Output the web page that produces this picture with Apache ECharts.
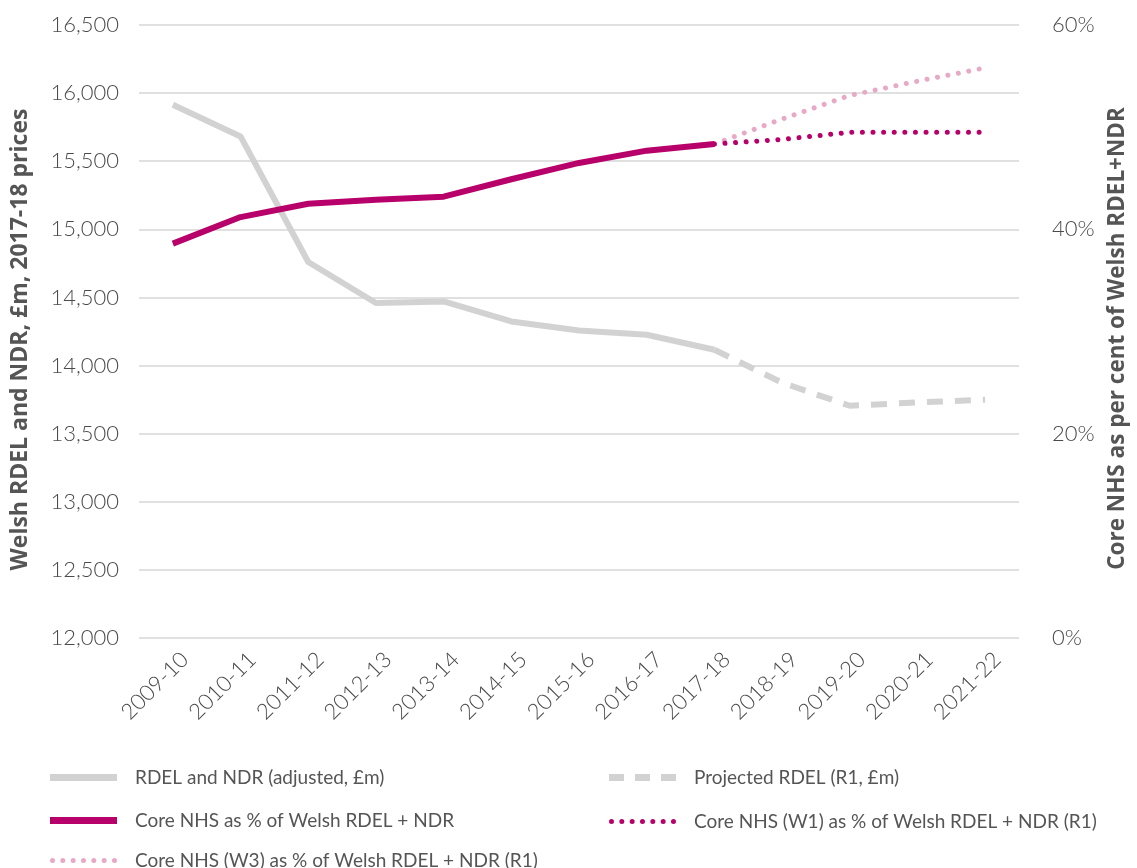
<!DOCTYPE html>
<html><head><meta charset="utf-8">
<script src="https://cdn.jsdelivr.net/npm/echarts@6/dist/echarts.min.js"></script>
<style>html,body{margin:0;padding:0;background:#fff}#c{width:1137px;height:868px}</style>
</head><body><div id="c"></div>
<script>
const categories = ['2009-10','2010-11','2011-12','2012-13','2013-14','2014-15','2015-16','2016-17','2017-18','2018-19','2019-20','2020-21','2021-22'];
const rdelNdr = [15915, 15682, 14760, 14459, 14471, 14324, 14258, 14226, 14116, null, null, null, null];
const projectedRdel = [null, null, null, null, null, null, null, null, 14116, 13874, 13705, 13729, 13749];
const coreNhsPct = [38.6, 41.2, 42.5, 42.9, 43.2, 44.9, 46.5, 47.7, 48.35, null, null, null, null];
const coreNhsW1Pct = [null, null, null, null, null, null, null, null, 48.35, 48.8, 49.5, 49.5, 49.5];
const coreNhsW3Pct = [null, null, null, null, null, null, null, null, 48.35, 50.8, 53.1, 54.5, 55.8];
const leftTicks = {min: 12000, max: 16500, interval: 500};
const rightTicks = {min: 0, max: 60, interval: 20};

const GRAY = '#d2d2d2', CRIMSON = '#b8006b', PINK = '#e7a9c6', TXT = '#555555', TICK = '#4a4a4a';
const FONT = 'Lato';
const TITLE_FONT = 'Open Sans';

// legend icon shapes (unit box, scaled to itemWidth x itemHeight)
const ICON_DASH = 'path://M0 0H15V7H0Z M26 0H41V7H26Z M52 0H67V7H52Z';
function dotsPath() {
  let p = 'path://';
  for (let i = 0; i < 7; i++) {
    const cx = 2.5 + i * 10.33, r = 2.5;
    p += `M${(cx - r).toFixed(2)} 2.5a${r} ${r} 0 1 0 ${2*r} 0a${r} ${r} 0 1 0 ${-2*r} 0Z`;
  }
  return p;
}
const ICON_DOTS = dotsPath();

const chart = echarts.init(document.getElementById('c'));
const legendBase = (name, icon, h, left, top) => ({
  data: [{name: name, icon: icon}], left: left, top: top, itemWidth: 67, itemHeight: h, padding: 0,
  itemStyle: {borderWidth: 0},
  textStyle: {fontFamily: FONT, fontSize: 19, color: TXT, padding: [0,0,0,13]}
});
chart.setOption({
  animation: false,
  textStyle: {fontFamily: FONT},
  grid: {left: 139, right: 105, top: 25, bottom: 230, containLabel: false},
  legend: [
    legendBase('RDEL and NDR (adjusted, £m)', 'rect', 7, 50, 768),
    legendBase('Projected RDEL (R1, £m)', ICON_DASH, 7, 609, 768),
    legendBase('Core NHS as % of Welsh RDEL + NDR', 'rect', 7, 50, 811),
    legendBase('Core NHS (W1) as % of Welsh RDEL + NDR (R1)', ICON_DOTS, 5, 609, 812),
    legendBase('Core NHS (W3) as % of Welsh RDEL + NDR (R1)', ICON_DOTS, 5, 50, 851)
  ],
  xAxis: {
    type: 'category', data: categories, boundaryGap: true,
    axisLine: {show: false}, axisTick: {show: false},
    axisLabel: {rotate: 45, color: TICK, fontSize: 22, fontFamily: FONT, fontWeight: 300, margin: 30,
      padding: [0, -17, 0, 0], interval: 0}
  },
  yAxis: [
    {type: 'value', min: leftTicks.min, max: leftTicks.max, interval: leftTicks.interval, position: 'left',
     name: 'Welsh RDEL and NDR, £m, 2017-18 prices', nameLocation: 'middle', nameRotate: 90, nameGap: 107,
     nameTextStyle: {color: TXT, fontSize: 23, fontWeight: 'bold', fontFamily: TITLE_FONT, padding: [0, 16, 0, 0]},
     axisLabel: {color: TICK, fontSize: 22, fontFamily: FONT, fontWeight: 300, margin: 20,
       formatter: v => v.toLocaleString('en-GB')},
     axisLine: {show: false}, axisTick: {show: false},
     splitLine: {lineStyle: {color: '#d6d6d6', width: 1.5}}},
    {type: 'value', min: rightTicks.min, max: rightTicks.max, interval: rightTicks.interval, position: 'right',
     name: 'Core NHS as per cent of Welsh RDEL+NDR', nameLocation: 'middle', nameRotate: 90, nameGap: 87,
     nameTextStyle: {color: TXT, fontSize: 22.5, fontWeight: 'bold', fontFamily: TITLE_FONT, padding: [0, 14, 0, 0]},
     axisLabel: {color: TICK, fontSize: 22, fontFamily: FONT, fontWeight: 300, margin: 33, formatter: '{value}%'},
     axisLine: {show: false}, axisTick: {show: false}, splitLine: {show: false}}
  ],
  series: [
    {name: 'RDEL and NDR (adjusted, £m)', type: 'line', yAxisIndex: 0, data: rdelNdr, symbol: 'none',
     lineStyle: {color: GRAY, width: 6}, itemStyle: {color: GRAY}},
    {name: 'Projected RDEL (R1, £m)', type: 'line', yAxisIndex: 0, data: projectedRdel, symbol: 'none',
     lineStyle: {color: GRAY, width: 6, type: [16, 12]}, itemStyle: {color: GRAY}},
    {name: 'Core NHS (W3) as % of Welsh RDEL + NDR (R1)', type: 'line', yAxisIndex: 1, data: coreNhsW3Pct, symbol: 'none',
     lineStyle: {color: PINK, width: 5, type: [0.01, 10.6], cap: 'round'}, itemStyle: {color: PINK}},
    {name: 'Core NHS (W1) as % of Welsh RDEL + NDR (R1)', type: 'line', yAxisIndex: 1, data: coreNhsW1Pct, symbol: 'none',
     lineStyle: {color: CRIMSON, width: 5, type: [0.01, 10.6], cap: 'round'}, itemStyle: {color: CRIMSON}},
    {name: 'Core NHS as % of Welsh RDEL + NDR', type: 'line', yAxisIndex: 1, data: coreNhsPct, symbol: 'none',
     lineStyle: {color: CRIMSON, width: 6}, itemStyle: {color: CRIMSON}}
  ]
});
</script></body></html>
